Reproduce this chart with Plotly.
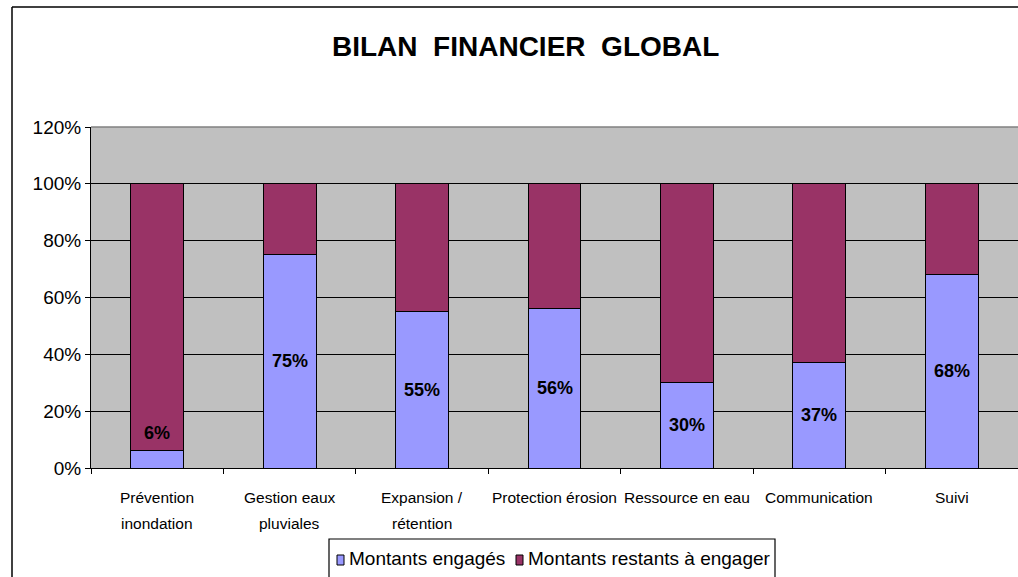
import plotly.graph_objects as go

categories = ["Prévention<br>inondation", "Gestion eaux<br>pluviales", "Expansion /<br>rétention",
              "Protection érosion", "Ressource en eau", "Communication", "Suivi"]
engages = [6, 75, 55, 56, 30, 37, 68]
restants = [100 - v for v in engages]
series_names = ["Montants engagés", "Montants restants à engager"]
series_colors = ["#9999FF", "#993366"]
y_ticks = [0, 20, 40, 60, 80, 100, 120]
y_labels = [f"{t}%" for t in y_ticks]
title_text = "BILAN  FINANCIER  GLOBAL"

W, H = 1018, 577
L, R, T, B = 91, 0, 127, 109
pw, ph = W - L - R, H - T - B


def px(x):
    return (x - L) / pw


def py(y):
    return (H - B - y) / ph


FONT = "Liberation Sans, Arial, sans-serif"

fig = go.Figure()
for name, vals, col in zip(series_names, [engages, restants], series_colors):
    fig.add_trace(go.Bar(x=list(range(len(categories))), y=vals, name=name, showlegend=False,
                         hoverinfo="skip",
                         marker=dict(color=col, line=dict(color="black", width=1))))

# data labels
for i, v in enumerate(engages):
    fig.add_annotation(x=i, y=max(v / 2, 12.3), text=f"<b>{v}%</b>", showarrow=False,
                       font=dict(family=FONT, size=18, color="black"))

# category labels (two-line with wide spacing)
for i, c in enumerate(categories):
    for j, line in enumerate(c.split("<br>")):
        fig.add_annotation(x=i, xref="x", y=py(497 + 26 * j), yref="paper", text=line,
                           showarrow=False, xanchor="center", yanchor="middle",
                           font=dict(family=FONT, size=15.5, color="black"))

shapes = [
    dict(type="line", xref="paper", yref="paper", x0=px(12), x1=px(1030), y0=py(7), y1=py(7),
         line=dict(color="black", width=1.5)),
    dict(type="line", xref="paper", yref="paper", x0=px(12), x1=px(12), y0=py(7), y1=py(590),
         line=dict(color="black", width=1.5)),
    dict(type="line", xref="paper", yref="paper", x0=0, x1=1, y0=1, y1=1,
         line=dict(color="#808080", width=1.5)),
    dict(type="rect", xref="paper", yref="paper", x0=px(329), x1=px(775), y0=py(539), y1=py(600),
         line=dict(color="black", width=1.2), fillcolor="rgba(0,0,0,0)"),
]

# manual legend
leg_sym_x = [337, 516]
for name, col, sx in zip(series_names, series_colors, leg_sym_x):
    shapes.append(dict(type="rect", xref="paper", yref="paper", x0=px(sx), x1=px(sx + 7),
                       y0=py(565), y1=py(555), line=dict(color="black", width=1), fillcolor=col))
    fig.add_annotation(x=px(sx + 10), xref="paper", y=py(558), yref="paper", text=name,
                       showarrow=False, xanchor="left", yanchor="middle",
                       font=dict(family=FONT, size=19, color="black"))

fig.add_annotation(x=px(525), xref="paper", y=py(46), yref="paper", text=f"<b>{title_text}</b>",
                   showarrow=False, xanchor="center", yanchor="middle",
                   font=dict(family=FONT, size=28, color="black"))

fig.update_layout(
    width=W, height=H,
    margin=dict(l=L, r=R, t=T, b=B, pad=0),
    paper_bgcolor="white",
    plot_bgcolor="#C0C0C0",
    barmode="stack",
    bargap=0.6,
    font=dict(family=FONT, color="black"),
    showlegend=False,
    hovermode=False,
    shapes=shapes,
    xaxis=dict(type="category", showline=True, linecolor="black", linewidth=1,
               ticks="outside", tickson="boundaries", ticklen=5, tickcolor="black",
               showticklabels=False, showgrid=False,
               tickvals=list(range(len(categories))),
               range=[-0.5, len(categories) - 0.5]),
    yaxis=dict(range=[0, 120], tickvals=y_ticks, ticktext=y_labels, showline=True,
               linecolor="black", linewidth=1, ticks="outside", ticklen=5, tickcolor="black",
               showgrid=True, gridcolor="black", gridwidth=1, zeroline=False,
               tickfont=dict(family=FONT, size=19, color="black")),
)

fig.write_html("out.html", config={"displayModeBar": False},
               post_script="document.body.style.margin='0';document.body.style.overflow='hidden';")
